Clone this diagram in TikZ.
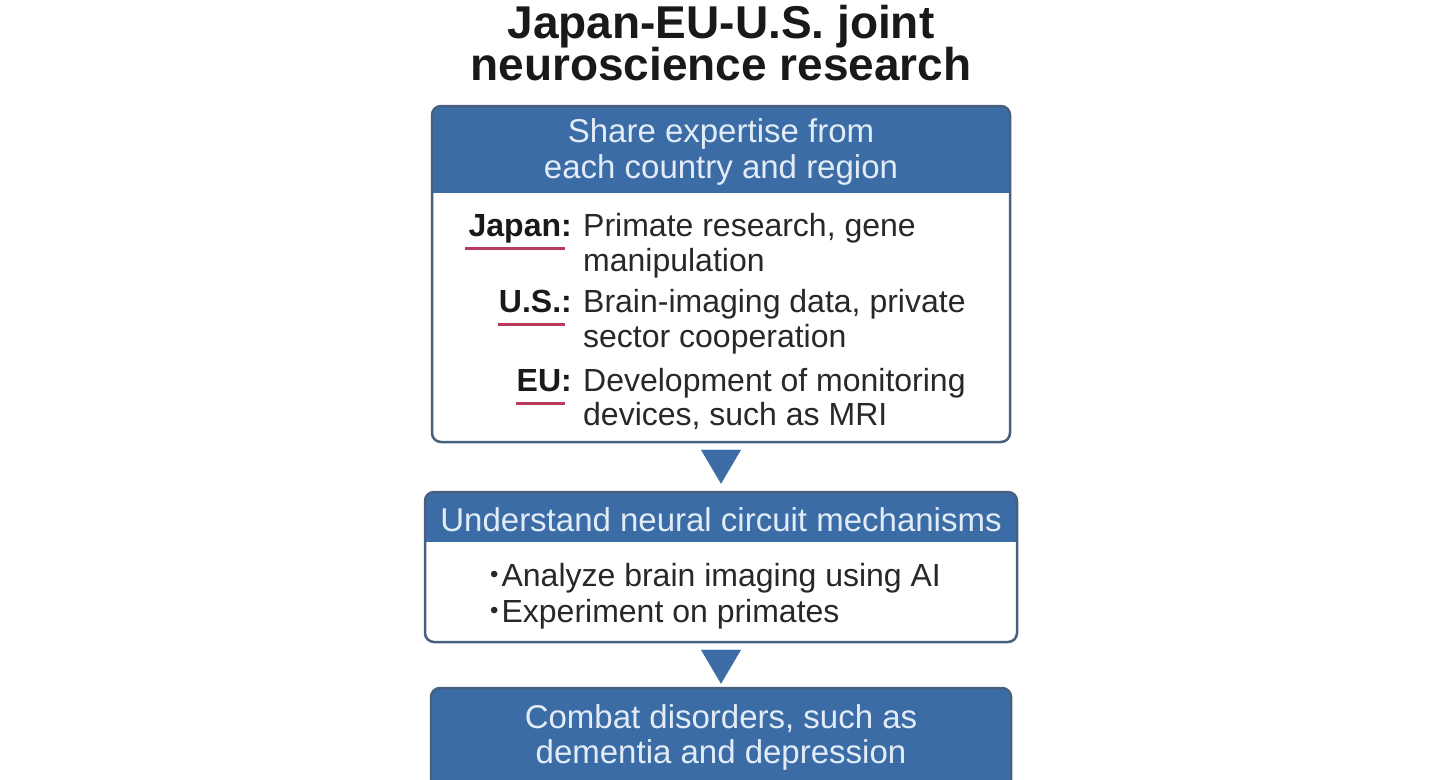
\documentclass[tikz,border=0pt]{standalone}
\usepackage{fontspec}
\setmainfont{Liberation Sans}
\usetikzlibrary{arrows.meta}
\definecolor{hdrblue}{RGB}{60,108,166}
\definecolor{edgegray}{RGB}{72,96,126}
\definecolor{hdrwhite}{RGB}{226,236,247}
\definecolor{txtgray}{RGB}{40,40,40}
\definecolor{markred}{RGB}{184,58,92}

\begin{document}
\begin{tikzpicture}[x=1pt,y=-1pt,>={Triangle[length=34pt,width=40pt]}]
		\tikzstyle{box}=[draw=edgegray,line width=2.5pt,fill=white,rounded corners=9pt,inner sep=0pt]
		\tikzset{head/.style={path picture={\fill[hdrblue,sharp corners] (path picture bounding box.north west) rectangle ([yshift=-#1]path picture bounding box.north east);}}}
		\tikzstyle{title}=[font=\fontsize{46}{46}\selectfont\bfseries,text=black!90,anchor=base,inner sep=0pt]
		\tikzstyle{headtext}=[font=\fontsize{33}{33}\selectfont,text=hdrwhite,anchor=base,inner sep=0pt]
		\tikzstyle{bodytext}=[font=\fontsize{32}{32}\selectfont,text=txtgray,anchor=base west,inner sep=0pt]
		\tikzstyle{label}=[font=\fontsize{32}{32}\selectfont\bfseries,text=black!90,anchor=base east,inner sep=0pt]
		\tikzstyle{redline}=[draw=markred,line width=3pt]
		\tikzstyle{flow}=[->,draw=hdrblue,line width=0.4pt,shorten <=8pt,shorten >=7pt]
		\useasboundingbox (0,0) rectangle (1440,779);
		\clip (0,0) rectangle (1440,779);
		% title
		\node[title]    (t1) at (721,38)     {Japan-EU-U.S. joint};
		\node[title]    (t2) at (721,80)     {neuroscience research};
		% first box
		\node[box,head=87pt,minimum width=578pt,minimum height=336pt] (box1) at (721,274) {};
		\node[headtext] (s1) at (721,142)    {Share expertise from};
		\node[headtext] (s2) at (721,178)    {each country and region};
		\node[label]    (jp) at (572,236)    {Japan:};
		\node[bodytext] (jp1) at (583,236)   {Primate research, gene};
		\node[bodytext] (jp2) at (583,271)   {manipulation};
		\node[label]    (us) at (572,312)    {U.S.:};
		\node[bodytext] (us1) at (583,312)   {Brain-imaging data, private};
		\node[bodytext] (us2) at (583,347)   {sector cooperation};
		\node[label]    (eu) at (572,391)    {EU:};
		\node[bodytext] (eu1) at (583,391)   {Development of monitoring};
		\node[bodytext] (eu2) at (583,425)   {devices, such as MRI};
		\draw[redline] ([xshift=-3pt,yshift=-12pt]jp.base west) -- ([xshift=-7pt,yshift=-12pt]jp.base east);
		\draw[redline] ([xshift=-1pt,yshift=-12pt]us.base west) -- ([xshift=-7pt,yshift=-12pt]us.base east);
		\draw[redline] ([xshift=0pt,yshift=-12pt]eu.base west) -- ([xshift=-7pt,yshift=-12pt]eu.base east);
		% second box
		\node[box,head=50pt,minimum width=592pt,minimum height=150pt] (box2) at (721,567) {};
		\node[headtext] (u1) at (721,531)    {Understand neural circuit mechanisms};
		\node[bodytext] (a1) at (490,586)    {\raisebox{4pt}{\fontsize{24}{24}\selectfont\textbullet}\hspace{3pt}Analyze brain imaging using AI};
		\node[bodytext] (a2) at (490,622)    {\raisebox{4pt}{\fontsize{24}{24}\selectfont\textbullet}\hspace{3pt}Experiment on primates};
		% third box
		\node[box,fill=hdrblue,minimum width=580pt,minimum height=110pt] (box3) at (721,743) {};
		\node[headtext] (c1) at (721,728)    {Combat disorders, such as};
		\node[headtext] (c2) at (721,763)    {dementia and depression};
		\path
		(box1) edge[flow] (box2)
		(box2) edge[flow,shorten >=3pt] (box3);
	\end{tikzpicture}
\end{document}
